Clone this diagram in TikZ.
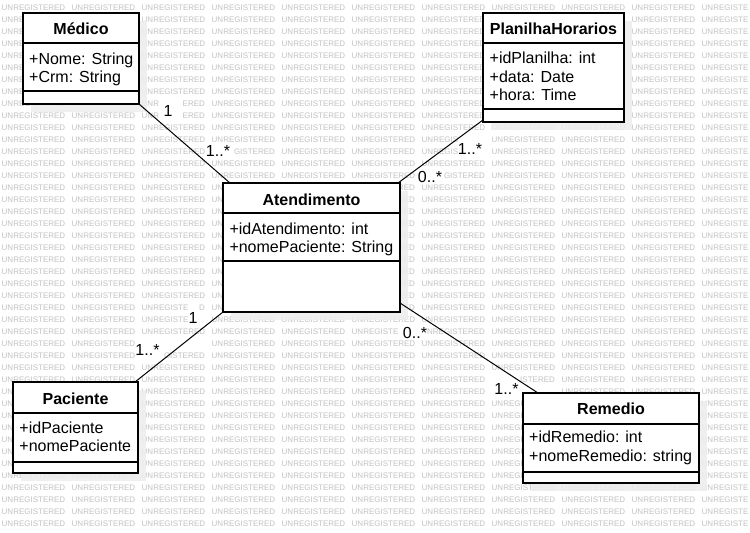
\documentclass[tikz,border=0pt]{standalone}
\usepackage{fontspec}
\setmainfont{Liberation Sans}
\newcommand\wmcell[4]{\ifnum\r=#1 \ifnum\c=#2 \def\wpre{#3}\def\wsuf{#4}\fi\fi}
\begin{document}
\begin{tikzpicture}[x=1pt,y=-1pt,
  wm/.style={font=\fontsize{8}{8}\selectfont, text=black!24, inner sep=0pt},
  shadowbox/.style={fill=black!7, fill opacity=0.85},
  classbox/.style={draw=black, line width=1.2pt, fill=white, anchor=north west, inner sep=0pt, outer sep=0pt},
  sepline/.style={draw=black, line width=1.2pt},
  classtitle/.style={font=\fontsize{16}{18}\selectfont\bfseries, inner sep=0pt, anchor=base},
  attr/.style={font=\fontsize{16}{18}\selectfont, inner sep=0pt, anchor=base west},
  assoc/.style={draw=black, line width=1pt},
  mult/.style={font=\fontsize{16}{18}\selectfont, fill=white, inner sep=0pt, anchor=base}
]
\useasboundingbox (0,0) rectangle (750,533);
\fill[white] (0,0) rectangle (750,533);
% watermark (only the parts that are not hidden behind boxes and labels)
\foreach \r in {0,...,43}{%
 \foreach \c in {0,...,10}{%
  \def\wpre{UNREGISTERED}\def\wsuf{}%
  \pgfmathsetmacro\wx{1.5+70*\c}\pgfmathsetmacro\wxe{65.1+70*\c}\pgfmathsetmacro\wy{10.9+12*\r}%
  \ifnum\c=10 \def\wpre{UNREGISTE}\fi
  \ifnum\r>0 \ifnum\r<8 \ifnum\c=0 \def\wpre{UNRE}\fi \ifnum\c=1 \def\wpre{}\fi \fi\fi
  \ifnum\r>0 \ifnum\r<10 \ifnum\c=7 \def\wpre{}\fi \ifnum\c=8 \def\wpre{}\fi \fi\fi
  \ifnum\r>14 \ifnum\r<26 \ifnum\c=3 \def\wpre{UN}\fi \ifnum\c=4 \def\wpre{}\fi \ifnum\c=5 \def\wpre{}\def\wsuf{RED}\fi \fi\fi
  \ifnum\r>31 \ifnum\r<39 \ifnum\c=0 \def\wpre{UN}\fi \ifnum\c=1 \def\wpre{}\fi \fi\fi
  \ifnum\r>32 \ifnum\r<40 \ifnum\c=7 \def\wpre{UNREGI}\fi \ifnum\c=8 \def\wpre{}\fi \ifnum\c=9 \def\wpre{}\fi \fi\fi
  \wmcell{8}{2}{UNR}{ERED}\wmcell{9}{2}{UNR}{ERED}%
  \wmcell{11}{6}{UNREGIS}{}%
  \wmcell{12}{3}{}{GISTERED}\wmcell{12}{6}{UNREGIS}{}%
  \wmcell{14}{6}{}{GISTERED}%
  \wmcell{25}{2}{UNREGISTE}{D}%
  \wmcell{26}{2}{UNREGISTE}{}\wmcell{28}{2}{}{}\wmcell{29}{2}{}{GISTERED}%
  \wmcell{27}{5}{UNREGISTE}{}\wmcell{27}{6}{}{NREGISTERED}%
  \wmcell{31}{7}{}{ISTERED}\wmcell{32}{7}{}{}%
  \ifx\wpre\empty\else \node[wm, anchor=base west] (wm-\r-\c) at (\wx,\wy) {\wpre};\fi
  \ifx\wsuf\empty\else \node[wm, anchor=base east] (wms-\r-\c) at (\wxe,\wy) {\wsuf};\fi
 }%
}
% shadows
\fill[shadowbox] (31,21) rectangle (147,112);
\fill[shadowbox] (491,21) rectangle (632,130);
\fill[shadowbox] (231,191) rectangle (408,320);
\fill[shadowbox] (21,390) rectangle (146,481);
\fill[shadowbox] (531,401) rectangle (707,491);
% class boxes
\node[classbox, minimum width=116pt, minimum height=91pt] (med) at (23,13) {};
\node[classbox, minimum width=141pt, minimum height=109pt] (pla) at (483,13) {};
\node[classbox, minimum width=177pt, minimum height=129pt] (ate) at (223,183) {};
\node[classbox, minimum width=125pt, minimum height=91pt] (pac) at (13,382) {};
\node[classbox, minimum width=176pt, minimum height=90pt] (rem) at (523,393) {};
% compartments
\draw[sepline] ([yshift=-30pt]med.north west) -- ([yshift=-30pt]med.north east);
\draw[sepline] ([yshift=13pt]med.south west) -- ([yshift=13pt]med.south east);
\draw[sepline] ([yshift=-30pt]pla.north west) -- ([yshift=-30pt]pla.north east);
\draw[sepline] ([yshift=13pt]pla.south west) -- ([yshift=13pt]pla.south east);
\draw[sepline] ([yshift=-30pt]ate.north west) -- ([yshift=-30pt]ate.north east);
\draw[sepline] ([yshift=51pt]ate.south west) -- ([yshift=51pt]ate.south east);
\draw[sepline] ([yshift=-31pt]pac.north west) -- ([yshift=-31pt]pac.north east);
\draw[sepline] ([yshift=11pt]pac.south west) -- ([yshift=11pt]pac.south east);
\draw[sepline] ([yshift=-31pt]rem.north west) -- ([yshift=-31pt]rem.north east);
\draw[sepline] ([yshift=11pt]rem.south west) -- ([yshift=11pt]rem.south east);
% texts
\node[classtitle] (med-t) at (81,34) {Médico};
\node[attr] (med-a1) at (29,64) {+Nome: String};
\node[attr] (med-a2) at (29,82) {+Crm: String};
\node[classtitle] (pla-t) at (553.5,34.3) {PlanilhaHorarios};
\node[attr] (pla-a1) at (489.5,63.7) {+idPlanilha: int};
\node[attr] (pla-a2) at (489.5,82) {+data: Date};
\node[attr] (pla-a3) at (489.5,100.3) {+hora: Time};
\node[classtitle] (ate-t) at (311.5,205) {Atendimento};
\node[attr] (ate-a1) at (229.3,234.3) {+idAtendimento: int};
\node[attr] (ate-a2) at (229.3,252.7) {+nomePaciente: String};
\node[classtitle] (pac-t) at (75.5,404.3) {Paciente};
\node[attr] (pac-a1) at (19.3,433.3) {+idPaciente};
\node[attr] (pac-a2) at (19.3,451.7) {+nomePaciente};
\node[classtitle] (rem-t) at (611,414.3) {Remedio};
\node[attr] (rem-a1) at (529,442.7) {+idRemedio: int};
\node[attr] (rem-a2) at (529,461) {+nomeRemedio: string};
% associations
\draw[assoc] (med.south east) -- ([xshift=7pt]ate.north west);
\draw[assoc] ([yshift=2pt]pla.south west) -- ([xshift=-2pt]ate.north east);
\draw[assoc] (ate.south west) -- ([xshift=-3pt]pac.north east);
\draw[assoc] ([yshift=9pt]ate.south east) -- ([xshift=15pt]rem.north west);
% multiplicities
\node[mult] (m1) at (168,116) {1};
\node[mult] (m2) at (218,156) {1..*};
\node[mult] (m3) at (470,154.5) {1..*};
\node[mult] (m4) at (430,182.5) {0..*};
\node[mult] (m5) at (193,323.3) {1};
\node[mult] (m6) at (147.5,355) {1..*};
\node[mult] (m7) at (415,338.3) {0..*};
\node[mult] (m8) at (506.5,394.5) {1..*};
\end{tikzpicture}
\end{document}
